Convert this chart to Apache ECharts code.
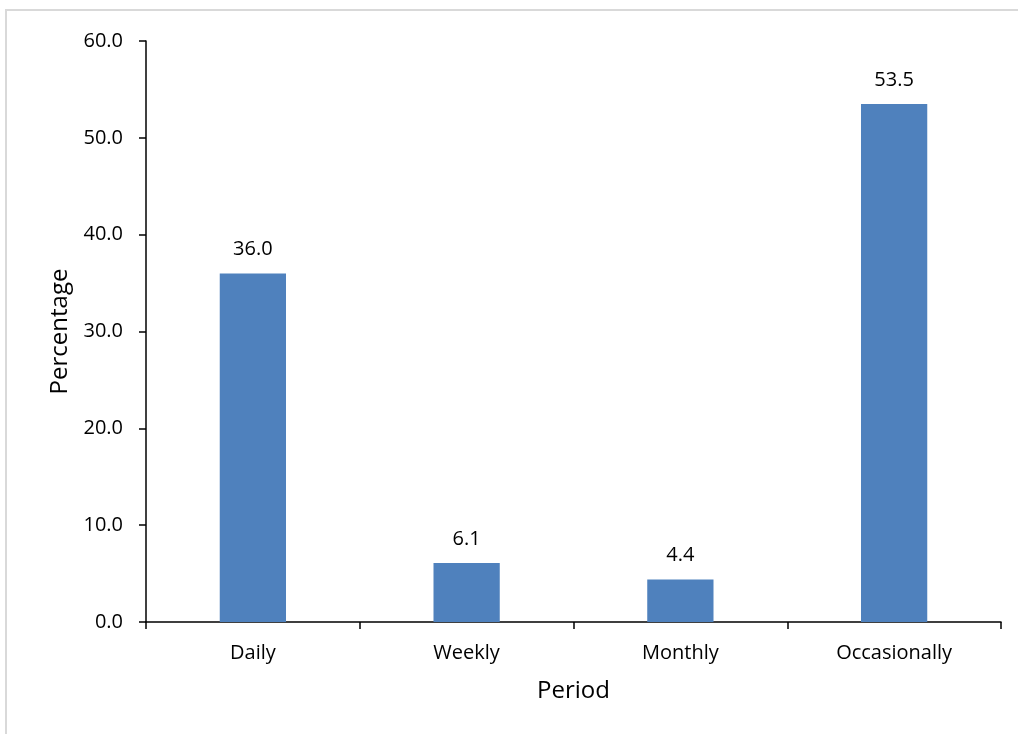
<!DOCTYPE html>
<html>
<head>
<meta charset="utf-8">
<script src="https://cdn.jsdelivr.net/npm/echarts@6/dist/echarts.min.js"></script>
<style>
    html, body { margin: 0; padding: 0; background: #fff; }
    #frame {
        position: absolute; left: 5px; top: 9px; width: 1020px; height: 740px;
        border: 2px solid #d9d9d9; box-sizing: border-box;
    }
    #chart { position: absolute; left: 0; top: 0; width: 1018px; height: 734px; }
</style>
</head>
<body>
<div id="frame"></div>
<div id="chart"></div>
<script>
// 类目与数值
const periods = ['Daily', 'Weekly', 'Monthly', 'Occasionally']
const percentages = [36.0, 6.1, 4.4, 53.5]
const yTicks = [0, 60, 10] // min, max, interval

const font = '"Open Sans", "Noto Sans", sans-serif'

const chart = echarts.init(document.getElementById('chart'), null, { renderer: 'canvas' })
const option = {
    animation: false,
    grid: { left: 146, right: 17, top: 41, bottom: 112 },
    xAxis: {
        type: 'category',
        data: periods,
        name: 'Period',
        nameLocation: 'middle',
        nameGap: 57,
        nameTextStyle: { fontFamily: font, fontSize: 24, color: '#000' },
        axisLine: { lineStyle: { color: '#000', width: 1.5 } },
        axisTick: { show: true, length: 7, alignWithLabel: false, lineStyle: { color: '#000', width: 1.5 } },
        axisLabel: { fontFamily: font, fontSize: 20, color: '#000', margin: 21 }
    },
    yAxis: {
        type: 'value',
        min: yTicks[0],
        max: yTicks[1],
        interval: yTicks[2],
        name: 'Percentage',
        nameLocation: 'middle',
        nameGap: 72,
        nameTextStyle: { fontFamily: font, fontSize: 24, color: '#000' },
        axisLine: { show: true, lineStyle: { color: '#000', width: 1.5 } },
        axisTick: { show: true, length: 7, lineStyle: { color: '#000', width: 1.5 } },
        axisLabel: { fontFamily: font, fontSize: 20, color: '#000', margin: 23, formatter: v => v.toFixed(1) },
        splitLine: { show: false }
    },
    series: [{
        type: 'bar',
        data: percentages,
        barWidth: '31%',
        itemStyle: { color: '#4f81bd' },
        label: {
            show: true,
            position: 'top',
            distance: 14,
            fontFamily: font,
            fontSize: 20,
            color: '#000',
            formatter: p => p.value.toFixed(1)
        }
    }]
}
chart.setOption(option)
</script>
</body>
</html>
